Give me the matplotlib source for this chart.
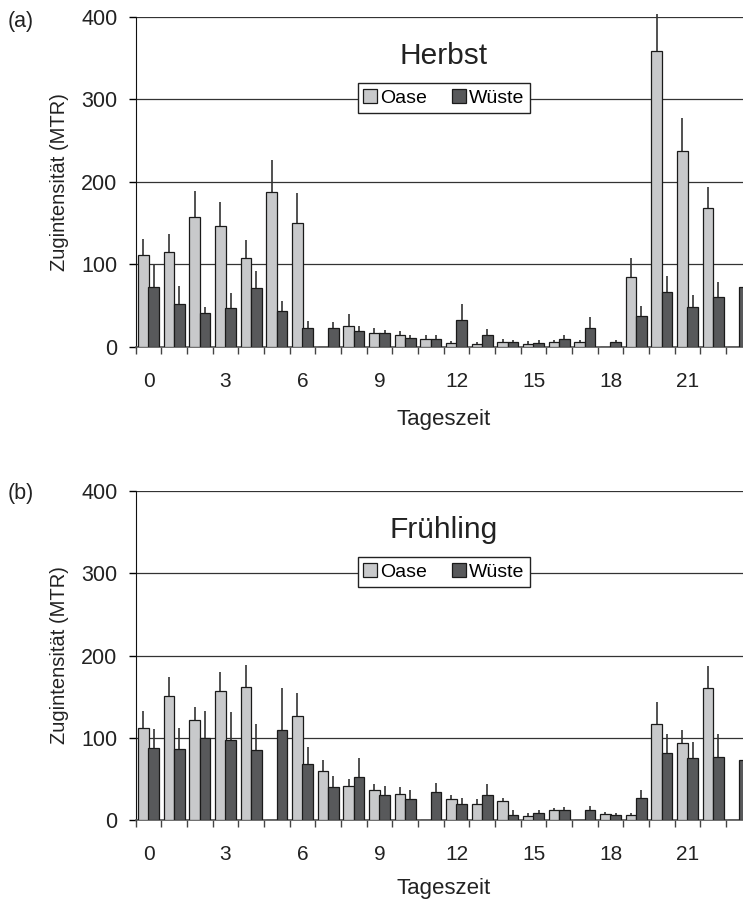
import matplotlib
matplotlib.use('Agg')
import matplotlib.pyplot as plt
import numpy as np

plt.rcParams['font.family'] = ['Liberation Sans', 'DejaVu Sans']

hours = list(range(24))
hour_labels = ['0', '3', '6', '9', '12', '15', '18', '21']
yticks = [0, 100, 200, 300, 400]

# Herbst (autumn)
autumn_oase = [111, 115, 158, 146, 108, 188, 150, 0, 26, 17, 14, 10, 5, 4, 6, 4, 6, 6, 0, 85, 358, 237, 168, 0]
autumn_oase_err = [20, 22, 31, 30, 22, 38, 37, 0, 14, 6, 5, 4, 2, 2, 4, 3, 2, 2, 0, 23, 45, 40, 26, 0]
autumn_wueste = [73, 52, 41, 47, 71, 43, 23, 23, 19, 17, 11, 10, 33, 14, 6, 5, 10, 23, 6, 37, 66, 48, 60, 73]
autumn_wueste_err = [27, 22, 8, 18, 21, 13, 8, 7, 7, 4, 4, 5, 19, 8, 3, 4, 5, 13, 3, 13, 20, 15, 19, 18]

# Frühling (spring)
spring_oase = [112, 151, 121, 157, 162, 0, 127, 59, 41, 36, 32, 0, 25, 19, 23, 5, 12, 0, 7, 6, 117, 94, 161, 0]
spring_oase_err = [21, 23, 17, 23, 26, 0, 27, 14, 9, 8, 8, 0, 6, 7, 4, 4, 3, 0, 3, 2, 26, 15, 26, 0]
spring_wueste = [87, 86, 100, 97, 85, 109, 68, 40, 52, 30, 26, 34, 19, 31, 6, 8, 12, 12, 6, 27, 82, 75, 77, 73]
spring_wueste_err = [24, 26, 32, 34, 32, 51, 21, 14, 23, 11, 11, 11, 8, 13, 6, 4, 4, 5, 2, 9, 22, 20, 27, 21]

OASE_COLOR = '#c8c9cb'
WUESTE_COLOR = '#58595b'
TEXT_COLOR = '#222222'


def draw_panel(ax, oase, oase_err, wueste, wueste_err, title: str,
               xlabelpad: float = 13) -> None:
    x = np.array(hours, dtype=float)
    oase = np.array(oase, dtype=float)
    wueste = np.array(wueste, dtype=float)
    w = 0.41
    xo, xw = x - 0.2, x + 0.2

    ax.bar(xo, oase, w, color=OASE_COLOR, edgecolor='#1a1a1a', linewidth=0.9,
           label='Oase', zorder=3)
    ax.bar(xw, wueste, w, color=WUESTE_COLOR, edgecolor='#1a1a1a', linewidth=0.9,
           label='Wüste', zorder=3)

    # only the upper half of the error bars is shown
    mo = oase > 0
    ax.vlines(xo[mo], oase[mo], oase[mo] + np.array(oase_err)[mo],
              color='#333333', linewidth=1.2, zorder=2, clip_on=False)
    ax.vlines(xw, wueste, wueste + np.array(wueste_err),
              color='#333333', linewidth=1.2, zorder=2, clip_on=False)

    ax.set_xlim(-0.5, 23.5)
    ax.set_ylim(0, 400)
    ax.set_yticks(yticks)
    ax.set_xticks(np.arange(0, 24, 3))
    ax.set_xticklabels(hour_labels)
    ax.set_xticks(np.arange(-0.5, 24, 1), minor=True)

    ax.tick_params(axis='y', direction='out', length=5, width=1, pad=8,
                   labelsize=15.5, labelcolor=TEXT_COLOR)
    ax.tick_params(axis='x', which='major', length=0, pad=18,
                   labelsize=15, labelcolor=TEXT_COLOR)
    ax.tick_params(axis='x', which='minor', direction='out', length=5,
                   width=1, color='#444444')

    ax.yaxis.grid(True, color='#333333', linewidth=0.9)
    ax.set_axisbelow(True)
    for side in ('top', 'right'):
        ax.spines[side].set_visible(False)
    ax.spines['left'].set_color('#111111')
    ax.spines['bottom'].set_color('#555555')
    ax.spines['bottom'].set_linewidth(1.2)

    ax.set_xlabel('Tageszeit', fontsize=16, color=TEXT_COLOR, labelpad=xlabelpad)
    ax.set_ylabel('Zugintensität (MTR)', fontsize=14.5, color=TEXT_COLOR, labelpad=9)

    ax.text(0.5, 0.856, title, transform=ax.transAxes, ha='center',
            va='baseline', fontsize=21.5, color=TEXT_COLOR)
    leg = ax.legend(loc='center', bbox_to_anchor=(0.5, 0.754), ncol=2,
                    fontsize=14, frameon=True, fancybox=False, framealpha=1,
                    edgecolor='#222222', handlelength=0.7, handleheight=0.7,
                    handletextpad=0.15, columnspacing=1.3, borderpad=0.3,
                    borderaxespad=0)
    leg.get_frame().set_linewidth(1.0)
    leg.set_zorder(5)


fig = plt.figure(figsize=(7.43, 9.01), dpi=100)
ax_a = fig.add_axes([0.1826, 0.6149, 0.8291, 0.3666])
ax_b = fig.add_axes([0.1826, 0.0899, 0.8291, 0.3651])

draw_panel(ax_a, autumn_oase, autumn_oase_err, autumn_wueste, autumn_wueste_err, 'Herbst')
draw_panel(ax_b, spring_oase, spring_oase_err, spring_wueste, spring_wueste_err, 'Frühling',
           xlabelpad=10)

fig.text(8 / 743, 1 - 21 / 901, '(a)', fontsize=15.5, color=TEXT_COLOR, va='center')
fig.text(8 / 743, 1 - 494 / 901, '(b)', fontsize=15.5, color=TEXT_COLOR, va='center')

fig.savefig('out.png', dpi=100)
